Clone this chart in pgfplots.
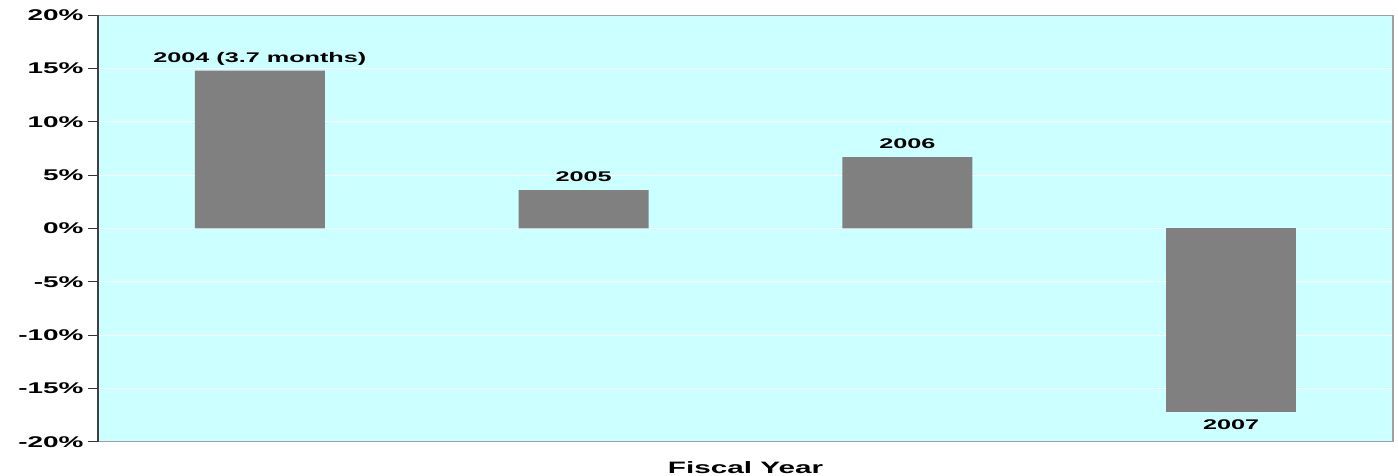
\documentclass[border=0pt]{standalone}
\usepackage{pgfplots}
\pgfplotsset{compat=1.18}
\usepackage{fontspec}
\setmainfont{Liberation Sans}[FakeStretch=1.8]
\definecolor{bgc}{HTML}{CCFFFF}
\definecolor{barc}{HTML}{808080}
\definecolor{brd}{HTML}{A0A0A0}
\begin{document}
\begin{tikzpicture}
\begin{axis}[
  at={(0,0)}, anchor=south west,
  scale only axis, width=1295bp, height=426.4bp,
  xmin=-0.5, xmax=3.5, ymin=-20, ymax=20,
  ytick={-20,-15,...,20},
  xtick=\empty,
  ytick pos=left,
  axis line style={draw=none},
  axis background/.style={fill=bgc},
  ymajorgrids, grid style={white, line width=1.2bp},
  major tick length=10bp,
  tick align=outside,
  ytick style={black!80, line width=1bp},
  yticklabel={\pgfmathprintnumber{\tick}\%},
  /pgf/number format/assume math mode=true,
  ticklabel style={font=\bfseries\fontsize{15.5bp}{18bp}\selectfont},
  yticklabel style={xshift=-1bp},
  xlabel={Fiscal Year},
  xlabel style={font=\bfseries\fontsize{16.5bp}{19bp}\selectfont, at={(axis description cs:0.5,0)}, anchor=base, yshift=-31.3bp, inner sep=0pt},
  ybar, bar width=130bp, bar shift=0pt,
  point meta=explicit symbolic,
  nodes near coords,
  clip=false,
]
\addplot[fill=barc, draw=none,
  nodes near coords style={font=\bfseries\fontsize{14bp}{16bp}\selectfont, inner sep=0pt, text depth=0pt, anchor=south, yshift=8bp}]
  coordinates {
  (0,14.8) [2004 (3.7 months)]
  (1,3.6) [2005]
  (2,6.7) [2006]
};
\addplot[fill=barc, draw=none,
  nodes near coords style={font=\bfseries\fontsize{14bp}{16bp}\selectfont, inner sep=0pt, text depth=0pt, anchor=north, yshift=-7.3bp}]
  coordinates {
  (3,-17.2) [2007]
};
\draw[brd, line width=1.5bp] (rel axis cs:0,1) -- (rel axis cs:1,1) -- (rel axis cs:1,0) -- (rel axis cs:0,0);
\draw[black!75, line width=1.5bp] (rel axis cs:0,0) -- (rel axis cs:0,1);
\end{axis}
\pgfresetboundingbox
\useasboundingbox (-98bp,-34.3bp) rectangle (1300bp,441.7bp);
\end{tikzpicture}
\end{document}
